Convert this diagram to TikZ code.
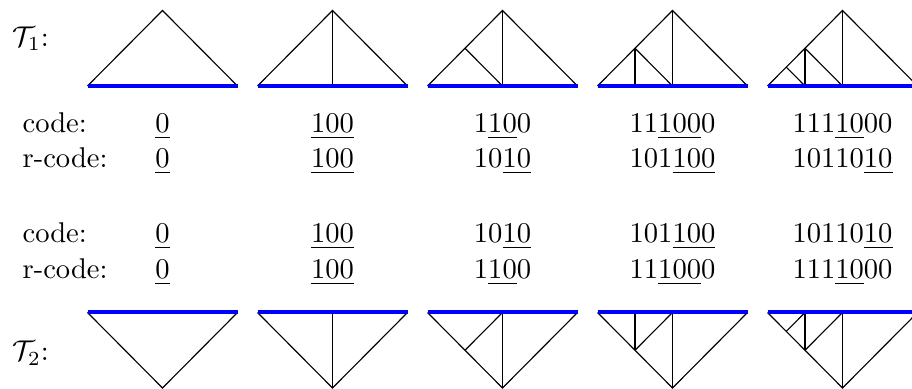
\documentclass[tikz,border=0pt]{standalone}
\begin{document}
\begin{tikzpicture}[x=0.35pt,y=-0.35pt,
  edge/.style={black,line width=0.4pt},
  basestroke/.style={blue,line width=1.4pt},
  lbl/.style={anchor=base west,inner sep=0pt},
  num/.style={anchor=base,inner sep=0pt}]
\useasboundingbox (0,0) rectangle (912,389);
\clip (0,0) rectangle (912,389);
% tree labels
\node[lbl] (t1) at (12,46.5) {$\mathcal{T}_1$:};
\node[lbl] (t2) at (12,361) {$\mathcal{T}_2$:};
% triangles: top (T1) and mirrored bottom (T2)
\foreach \sc in {0,1}{
\begin{scope}[shift={(0,398.5*\sc)},yscale={1-2*\sc}]
  \foreach \k in {0,...,4}{
    \pgfmathsetmacro{\cx}{162.5+170*\k}
    \draw[edge] (\cx-75,86) -- (\cx,10.5) -- (\cx+75,86);
    \ifnum\k>0 \draw[edge] (\cx,10.5) -- (\cx,86); \fi
    \ifnum\k>1 \draw[edge] (\cx-37.5,48.25) -- (\cx,86); \fi
    \ifnum\k>2 \draw[edge] (\cx-37.5,48.25) -- (\cx-37.5,86); \fi
    \ifnum\k>3 \draw[edge] (\cx-56.25,67.125) -- (\cx-37.5,86); \fi
    \draw[basestroke] (\cx-75,86) -- (\cx+75,86);
  }
\end{scope}}
% row labels
\node[lbl] (l1) at (22,132.5) {code:};
\node[lbl] (l2) at (22,168) {r-code:};
\node[lbl] (l3) at (22,243) {code:};
\node[lbl] (l4) at (22,278.5) {r-code:};
% row 1: code of T1
\node[num] (a0) at (162.5,132.5) {\underline{0}};
\node[num] (a1) at (332.5,132.5) {\underline{100}};
\node[num] (a2) at (502.5,132.5) {1\underline{10}0};
\node[num] (a3) at (672.5,132.5) {11\underline{100}0};
\node[num] (a4) at (842.5,132.5) {111\underline{10}00};
% row 2: r-code of T1
\node[num] (b0) at (162.5,168) {\underline{0}};
\node[num] (b1) at (332.5,168) {\underline{100}};
\node[num] (b2) at (502.5,168) {10\underline{10}};
\node[num] (b3) at (672.5,168) {101\underline{100}};
\node[num] (b4) at (842.5,168) {10110\underline{10}};
% row 3: code of T2
\node[num] (c0) at (162.5,243) {\underline{0}};
\node[num] (c1) at (332.5,243) {\underline{100}};
\node[num] (c2) at (502.5,243) {10\underline{10}};
\node[num] (c3) at (672.5,243) {101\underline{100}};
\node[num] (c4) at (842.5,243) {10110\underline{10}};
% row 4: r-code of T2
\node[num] (d0) at (162.5,278.5) {\underline{0}};
\node[num] (d1) at (332.5,278.5) {\underline{100}};
\node[num] (d2) at (502.5,278.5) {1\underline{10}0};
\node[num] (d3) at (672.5,278.5) {11\underline{100}0};
\node[num] (d4) at (842.5,278.5) {111\underline{10}00};
\end{tikzpicture}
\end{document}
